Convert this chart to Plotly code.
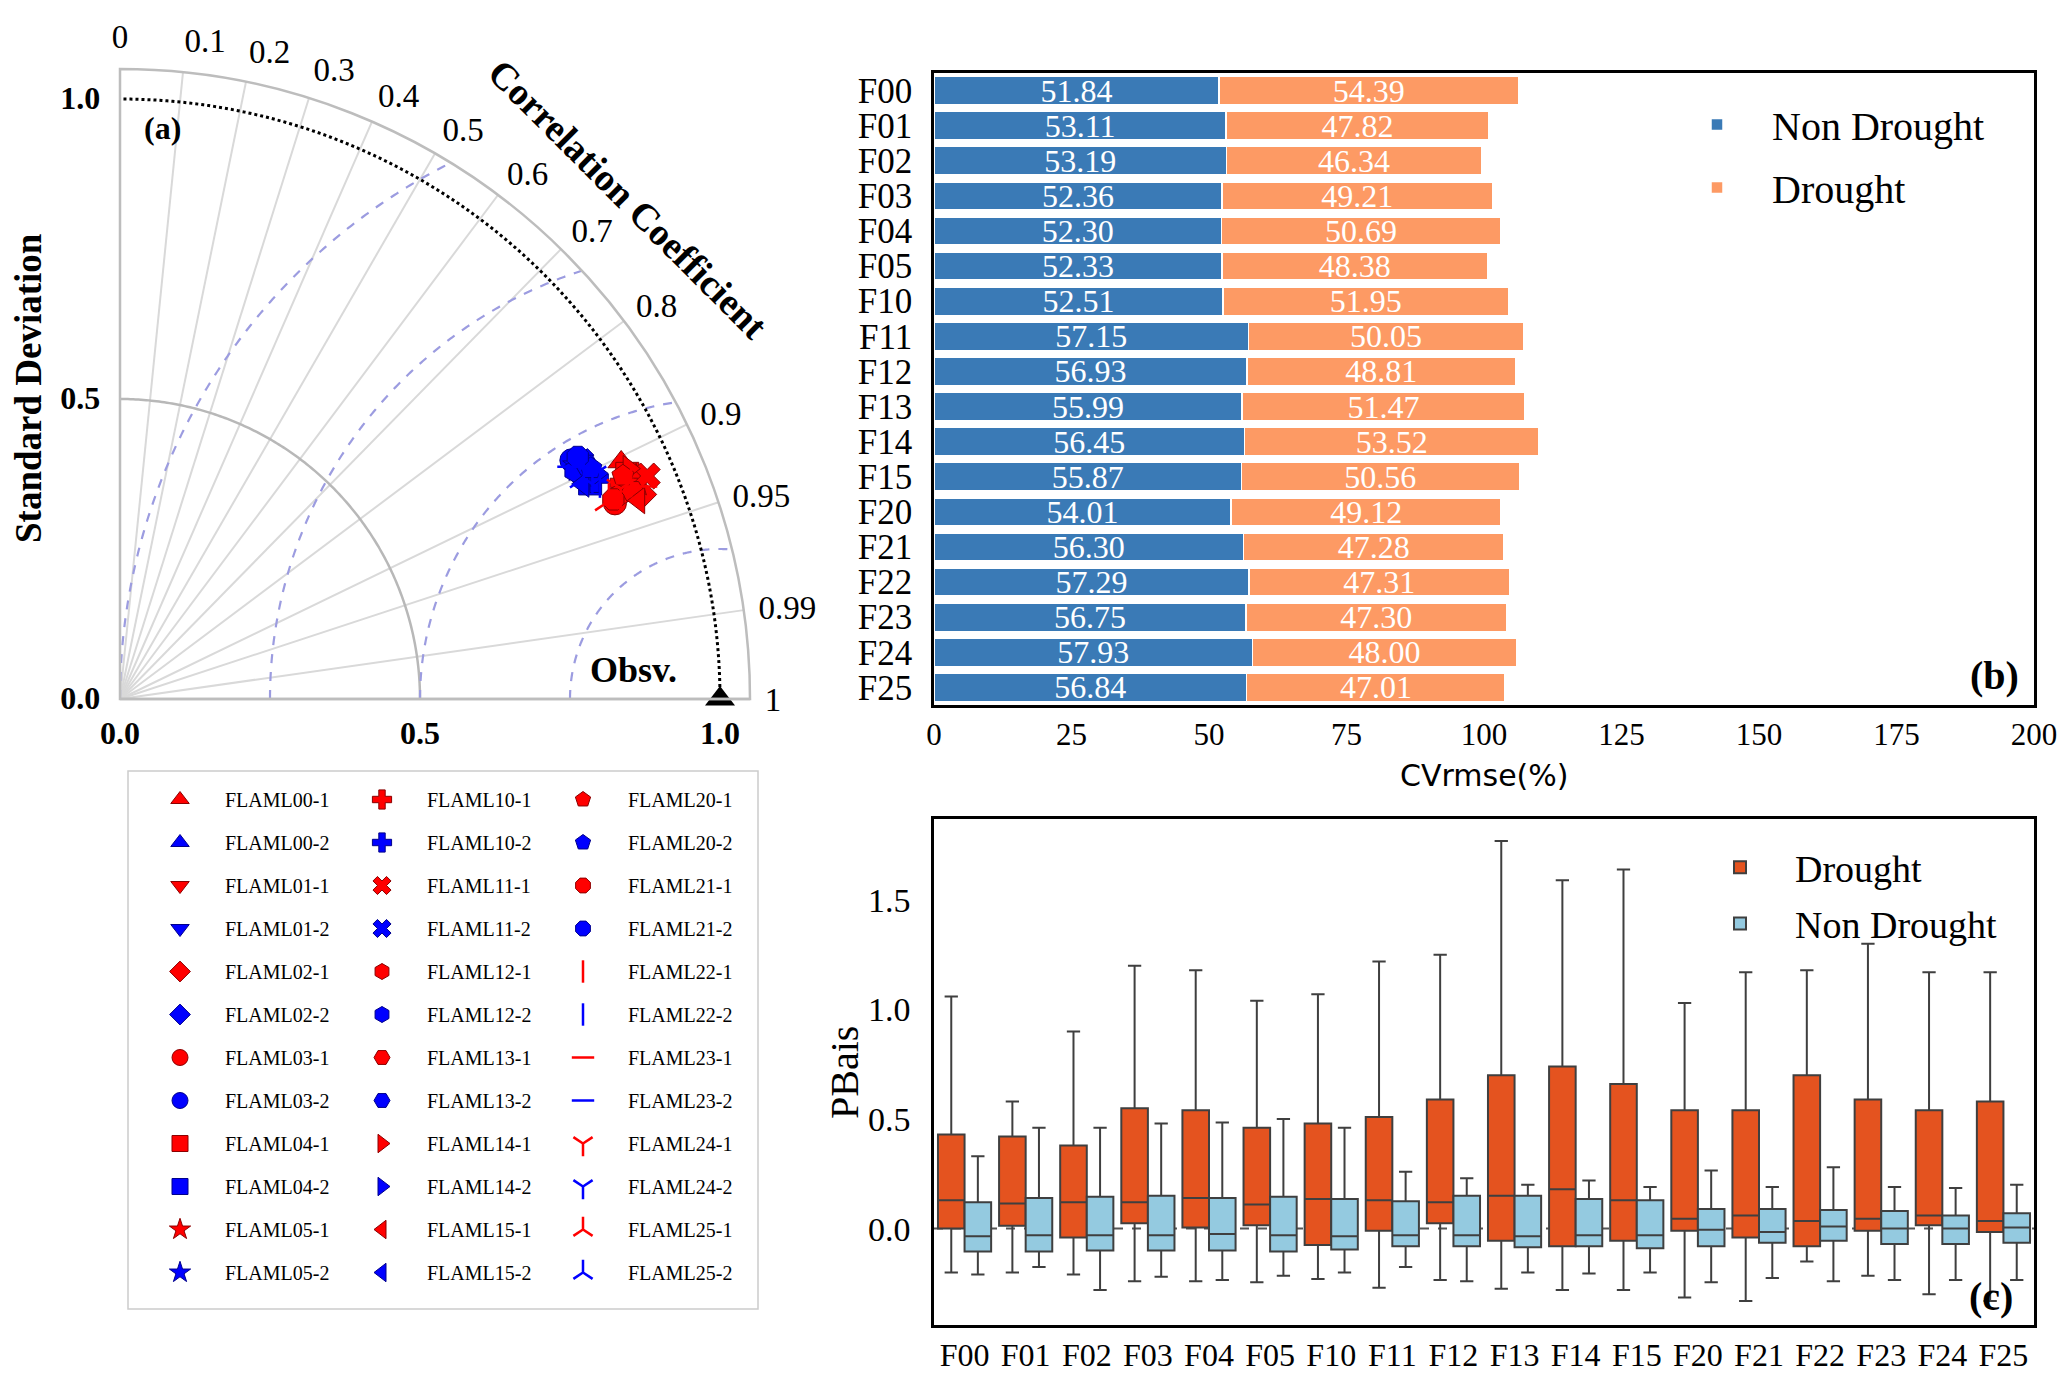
import numpy as np
import plotly.graph_objects as go

SERIF = "Times New Roman, Liberation Serif, serif"
W, H = 2067, 1379

# ---------------- (a) Taylor diagram ----------------
model_ids = ["00", "01", "02", "03", "04", "05",
             "10", "11", "12", "13", "14", "15",
             "20", "21", "22", "23", "24", "25"]
symbols = ["triangle-up", "triangle-down", "diamond", "circle", "square", "star",
           "cross", "x", "hexagon", "hexagon2", "triangle-right", "triangle-left",
           "pentagon", "octagon", "line-ns", "line-ew", "y-down", "y-up"]

# normalised standard deviation and correlation, run -1 (red) and run -2 (blue)
std_1 = [0.924, 0.920, 0.934, 0.887, 0.925, 0.934, 0.914, 0.954, 0.896,
         0.922, 0.931, 0.926, 0.917, 0.887, 0.926, 0.938, 0.905, 0.879]
corr_1 = [0.904, 0.924, 0.931, 0.930, 0.914, 0.921, 0.919, 0.921, 0.926,
          0.927, 0.911, 0.934, 0.914, 0.927, 0.920, 0.926, 0.922, 0.927]
std_2 = [0.863, 0.855, 0.855, 0.851, 0.862, 0.858, 0.872, 0.864, 0.848,
         0.870, 0.879, 0.851, 0.874, 0.863, 0.878, 0.849, 0.871, 0.856]
corr_2 = [0.898, 0.889, 0.900, 0.884, 0.909, 0.892, 0.907, 0.889, 0.894,
          0.894, 0.904, 0.907, 0.898, 0.884, 0.911, 0.890, 0.904, 0.903]

corr_ticks = [0, 0.1, 0.2, 0.3, 0.4, 0.5, 0.6, 0.7, 0.8, 0.9, 0.95, 0.99, 1]
corr_labels = ["0", "0.1", "0.2", "0.3", "0.4", "0.5", "0.6", "0.7", "0.8",
               "0.9", "0.95", "0.99", "1"]
rms_levels = [0.25, 0.5, 0.75, 1.0]
r_max = 1.05

# ---------------- (b) CVrmse bars ----------------
cats = ["F00", "F01", "F02", "F03", "F04", "F05", "F10", "F11", "F12",
        "F13", "F14", "F15", "F20", "F21", "F22", "F23", "F24", "F25"]
cv_non = [51.84, 53.11, 53.19, 52.36, 52.30, 52.33, 52.51, 57.15, 56.93,
          55.99, 56.45, 55.87, 54.01, 56.30, 57.29, 56.75, 57.93, 56.84]
cv_dry = [54.39, 47.82, 46.34, 49.21, 50.69, 48.38, 51.95, 50.05, 48.81,
          51.47, 53.52, 50.56, 49.12, 47.28, 47.31, 47.30, 48.00, 47.01]

# ---------------- (c) PBias boxes ----------------
d_hi = [1.06, 0.58, 0.90, 1.20, 1.18, 1.04, 1.07, 1.22, 1.25,
        1.77, 1.59, 1.64, 1.03, 1.17, 1.18, 1.30, 1.17, 1.17]
d_q3 = [0.43, 0.42, 0.38, 0.55, 0.54, 0.46, 0.48, 0.51, 0.59,
        0.70, 0.74, 0.66, 0.54, 0.54, 0.70, 0.59, 0.54, 0.58]
d_med = [0.13, 0.115, 0.12, 0.12, 0.14, 0.11, 0.135, 0.13, 0.12,
         0.15, 0.18, 0.13, 0.045, 0.06, 0.035, 0.045, 0.06, 0.035]
d_q1 = [0.0, 0.013, -0.04, 0.025, 0.005, 0.015, -0.075, -0.01, 0.025,
        -0.055, -0.08, -0.055, -0.01, -0.04, -0.08, -0.01, 0.015, -0.015]
d_lo = [-0.20, -0.20, -0.21, -0.24, -0.24, -0.245, -0.23, -0.27, -0.235,
        -0.275, -0.28, -0.28, -0.315, -0.33, -0.15, -0.215, -0.30, -0.33]

n_hi = [0.33, 0.46, 0.46, 0.48, 0.485, 0.50, 0.46, 0.26, 0.23,
        0.20, 0.22, 0.19, 0.265, 0.19, 0.28, 0.19, 0.185, 0.20]
n_q3 = [0.12, 0.14, 0.145, 0.15, 0.14, 0.145, 0.135, 0.125, 0.15,
        0.15, 0.135, 0.13, 0.09, 0.09, 0.085, 0.08, 0.06, 0.07]
n_med = [-0.035, -0.03, -0.03, -0.03, -0.025, -0.03, -0.035, -0.03, -0.03,
         -0.035, -0.03, -0.03, -0.005, -0.015, 0.01, 0.0, 0.0, 0.005]
n_q1 = [-0.105, -0.105, -0.10, -0.10, -0.10, -0.105, -0.095, -0.08, -0.08,
        -0.085, -0.08, -0.09, -0.08, -0.065, -0.055, -0.07, -0.07, -0.065]
n_lo = [-0.21, -0.175, -0.28, -0.22, -0.235, -0.215, -0.20, -0.175, -0.24,
        -0.20, -0.205, -0.20, -0.245, -0.225, -0.24, -0.235, -0.235, -0.235]


def px_x(p):
    return p / W


def px_y(p):
    return 1 - p / H


fig = go.Figure()
nohover = dict(showlegend=False, hoverinfo="skip")

# std arc at 0.5 and dotted reference arc at 1.0
th = np.linspace(0, 90, 181)
fig.add_trace(go.Scatterpolar(r=np.full_like(th, 0.5), theta=th, mode="lines",
                              line=dict(color="#b8b8b8", width=2.5), **nohover))

# centred RMS difference arcs around the observation point
for R in rms_levels:
    phi = np.linspace(0, np.pi, 600)
    xx = 1 - R * np.cos(phi)
    yy = R * np.sin(phi)
    rr = np.hypot(xx, yy)
    tt = np.degrees(np.arctan2(yy, xx))
    keep = rr <= r_max
    fig.add_trace(go.Scatterpolar(r=rr[keep], theta=tt[keep], mode="lines",
                                  line=dict(color="#9c9ce0", width=2.2, dash="dash"),
                                  **nohover))

fig.add_trace(go.Scatterpolar(r=np.full_like(th, 1.0), theta=th, mode="lines",
                              line=dict(color="black", width=3, dash="dot"), **nohover))

# model points: blue first, red on top
legend_cols = ["legend", "legend2", "legend3"]
for run, stds, cors, fill, edge in [("2", std_2, corr_2, "#0000ff", "#00008b"),
                                    ("1", std_1, corr_1, "#ff0000", "#8b0000")]:
    for k, mid in enumerate(model_ids):
        sym = symbols[k]
        is_line = sym.startswith("line") or sym.startswith("y-")
        size = 25 if sym == "star" else 23
        fig.add_trace(go.Scatterpolar(
            r=[stds[k]], theta=[np.degrees(np.arccos(cors[k]))],
            mode="markers", name="FLAML%s-%s" % (mid, run),
            legend=legend_cols[k // 6], legendgroup="FLAML%s-%s" % (mid, run),
            legendrank=100 + (k % 6) * 2 + (0 if run == "1" else 1),
            marker=dict(symbol=sym, size=size, color=fill,
                        line=dict(color=fill if is_line else edge,
                                  width=2.5 if is_line else 1)),
        ))

# observation
fig.add_trace(go.Scatterpolar(r=[1.0], theta=[0], mode="markers",
                              marker=dict(symbol="triangle-up", size=26, color="black"),
                              **nohover))
# helper trace so the second polar (left-hand labels) is drawn
fig.add_trace(go.Scatterpolar(r=[0], theta=[0], subplot="polar2", mode="markers",
                              marker=dict(opacity=0), **nohover))

# ---------------- bars ----------------
bar_font = dict(family=SERIF, size=32, color="white")
fig.add_trace(go.Bar(y=cats, x=cv_non, orientation="h", name="Non Drought",
                     marker=dict(color="#3a7ab6", line=dict(color="white", width=1.5)),
                     texttemplate="%{x:.2f}", textposition="inside",
                     insidetextanchor="middle", textangle=0, constraintext="none",
                     textfont=bar_font, width=0.8, xaxis="x", yaxis="y",
                     legend="legend4", legendgroup="nd"))
fig.add_trace(go.Bar(y=cats, x=cv_dry, orientation="h", name="Drought",
                     marker=dict(color="#fd9a64", line=dict(color="white", width=1.5)),
                     texttemplate="%{x:.2f}", textposition="inside",
                     insidetextanchor="middle", textangle=0, constraintext="none",
                     textfont=bar_font, width=0.8, xaxis="x", yaxis="y",
                     legend="legend4", legendgroup="d"))

# ---------------- boxes ----------------
box_line = dict(color="#3f3f3f", width=2)
fig.add_trace(go.Box(x=cats, q1=d_q1, median=d_med, q3=d_q3,
                     lowerfence=d_lo, upperfence=d_hi, name="Drought",
                     fillcolor="#e4531f", line=box_line, whiskerwidth=0.5,
                     xaxis="x2", yaxis="y2", legend="legend5", legendgroup="bd"))
fig.add_trace(go.Box(x=cats, q1=n_q1, median=n_med, q3=n_q3,
                     lowerfence=n_lo, upperfence=n_hi, name="Non Drought",
                     fillcolor="#94cae0", line=box_line, whiskerwidth=0.5,
                     xaxis="x2", yaxis="y2", legend="legend5", legendgroup="bn"))

# ---------------- layout ----------------
tay_dom = dict(x=[px_x(120), px_x(750)], y=[px_y(699), px_y(69)])
bold32 = dict(family=SERIF, size=32, color="black", weight="bold")
clear = "rgba(0,0,0,0)"

frame = dict(showline=True, mirror=True, linecolor="black", linewidth=2.5,
             showgrid=False, zeroline=False, ticks="", automargin=False)

tay_legend = dict(bgcolor=clear, font=dict(family=SERIF, size=20, color="black"),
                  itemwidth=80, tracegroupgap=14, yanchor="top", y=px_y(780),
                  xanchor="left", traceorder="grouped")

fig.update_layout(
    width=W, height=H, margin=dict(l=0, r=0, t=0, b=0),
    paper_bgcolor="white", plot_bgcolor="white",
    barmode="stack", boxmode="group", boxgap=0.13, boxgroupgap=0,
    polar=dict(
        domain=tay_dom, sector=[0, 90], bgcolor="white",
        radialaxis=dict(range=[0, r_max], angle=0, tickangle=0,
                        tickvals=[0, 0.5, 1.0], ticktext=["0.0", "0.5", "1.0"],
                        tickfont=bold32, showgrid=False, showline=True,
                        linecolor="#bdbdbd", linewidth=2.5, ticks="outside",
                        ticklen=5, tickcolor=clear),
        angularaxis=dict(rotation=0, direction="counterclockwise",
                         tickvals=list(np.degrees(np.arccos(corr_ticks))),
                         ticktext=corr_labels,
                         tickfont=dict(family=SERIF, size=33, color="black"),
                         showgrid=True, gridcolor="#d9d9d9", gridwidth=2,
                         showline=True, linecolor="#bdbdbd", linewidth=2.5,
                         ticks="outside", ticklen=7, tickcolor=clear),
    ),
    polar2=dict(
        domain=tay_dom, sector=[0, 90], bgcolor=clear,
        radialaxis=dict(range=[0, r_max], angle=90, tickangle=90, side="counterclockwise",
                        tickvals=[0, 0.5, 1.0], ticktext=["0.0", "0.5", "1.0"],
                        tickfont=bold32, showgrid=False, showline=False,
                        ticks="outside", ticklen=8, tickcolor=clear),
        angularaxis=dict(visible=False),
    ),
    xaxis=dict(domain=[px_x(934), px_x(2034)], range=[0, 200],
               tickvals=list(range(0, 201, 25)),
               tickfont=dict(family=SERIF, size=31, color="black"), anchor="y", **frame),
    yaxis=dict(domain=[px_y(705), px_y(73)], autorange="reversed",
               tickmode="array", tickvals=cats, ticklabelstandoff=12,
               tickfont=dict(family=SERIF, size=35, color="black"), anchor="x", **frame),
    xaxis2=dict(domain=[px_x(934), px_x(2034)], range=[-0.5, 17.5],
                tickmode="array", tickvals=cats,
                tickfont=dict(family=SERIF, size=32, color="black"), anchor="y2", **frame),
    yaxis2=dict(domain=[px_y(1325), px_y(819)], range=[-0.44, 1.87],
                tickvals=[0, 0.5, 1.0, 1.5], tickformat=".1f", ticklabelstandoff=14,
                tickfont=dict(family=SERIF, size=34, color="black"), anchor="x2", **frame),
    legend=dict(x=px_x(135), **tay_legend),
    legend2=dict(x=px_x(337), **tay_legend),
    legend3=dict(x=px_x(538), **tay_legend),
    legend4=dict(x=px_x(1662), y=px_y(92), xanchor="left", yanchor="top",
                 bgcolor=clear, itemwidth=100, tracegroupgap=8, traceorder="grouped",
                 font=dict(family=SERIF, size=40, color="black")),
    legend5=dict(x=px_x(1685), y=px_y(836), xanchor="left", yanchor="top",
                 bgcolor=clear, itemwidth=100, tracegroupgap=4, traceorder="grouped",
                 font=dict(family=SERIF, size=38, color="black")),
    shapes=[
        dict(type="rect", xref="paper", yref="paper",
             x0=px_x(128), x1=px_x(758), y0=px_y(1309), y1=px_y(771),
             line=dict(color="#cccccc", width=1.5)),
        dict(type="line", xref="x2 domain", yref="y2", x0=0, x1=1, y0=0, y1=0,
             line=dict(color="#555555", width=2, dash="dash"), layer="below"),
    ],
    annotations=[
        dict(text="<b>(a)</b>", x=px_x(162), y=px_y(128), font=dict(family=SERIF, size=32)),
        dict(text="<b>Obsv.</b>", x=px_x(633), y=px_y(670), font=dict(family=SERIF, size=36)),
        dict(text="<b>Correlation Coefficient</b>", x=px_x(628), y=px_y(199), textangle=45,
             font=dict(family=SERIF, size=38)),
        dict(text="<b>Standard Deviation</b>", x=px_x(29), y=px_y(388), textangle=-90,
             font=dict(family=SERIF, size=37)),
        dict(text="<b>(b)</b>", x=px_x(1994), y=px_y(676), font=dict(family=SERIF, size=40)),
        dict(text="<b>(c)</b>", x=px_x(1991), y=px_y(1296), font=dict(family=SERIF, size=40)),
        dict(text="CVrmse(%)", x=px_x(1484), y=px_y(775),
             font=dict(family="DejaVu Sans", size=30)),
        dict(text="PBais", x=px_x(844), y=px_y(1073), textangle=-90,
             font=dict(family=SERIF, size=40)),
    ],
)
for a in fig.layout.annotations:
    a.update(xref="paper", yref="paper", showarrow=False, font_color="black",
             xanchor="center", yanchor="middle")

fig.write_html("out.html", config={"displayModeBar": False},
               post_script="document.body.style.margin='0';")
